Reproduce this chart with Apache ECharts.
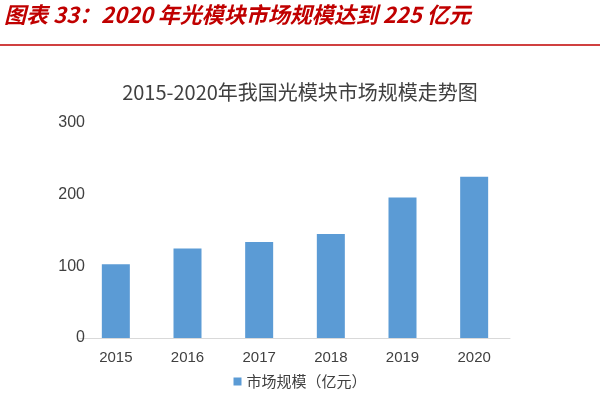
<!DOCTYPE html>
<html><head><meta charset="utf-8">
<script src="https://cdn.jsdelivr.net/npm/echarts@6/dist/echarts.min.js"></script>
<style>html,body{margin:0;padding:0;background:#fff}#c{width:600px;height:400px}</style>
</head><body><div id="c"></div>
<script>
const categories = ['2015','2016','2017','2018','2019','2020'];
const values = [103, 125, 134, 145, 196, 225];
const yTicks = [0, 100, 200, 300];
const seriesName = '市场规模（亿元）';
const header = '图表 33：2020 年光模块市场规模达到 225 亿元';
const title = '2015-2020年我国光模块市场规模走势图';

const chart = echarts.init(document.getElementById('c'));
chart.setOption({
  animation: false,
  graphic: [
    {type:'text', left: 4, top: 4, style:{text: header, fill:'#c00000', font:'italic bold 22px "Noto Sans CJK SC"'}},
    {type:'line', shape:{x1:0,y1:45,x2:600,y2:45}, style:{stroke:'#c00000', lineWidth:1.5}}
  ],
  title: {text: title, left: 'center', top: 77, textStyle:{fontSize:20, fontWeight:'normal', color:'#404040', fontFamily:'"Noto Sans CJK SC"'}},
  grid: {left: 80, right: 90, top: 123, bottom: 62},
  legend: {bottom: 6, left: 'center', itemWidth: 8, itemHeight: 8, icon:'rect',
    textStyle:{fontSize:15, color:'#404040', fontFamily:'"Noto Sans CJK SC"'}},
  xAxis: {type:'category', data: categories,
    axisLine:{lineStyle:{color:'#d9d9d9'}}, axisTick:{show:false},
    axisLabel:{fontSize:15, color:'#404040', margin:12}},
  yAxis: {type:'value', min:0, max:300, interval:100,
    axisLine:{show:false}, axisTick:{show:false}, splitLine:{show:false},
    axisLabel:{fontSize:16, color:'#404040', margin:-5,
      formatter: v => yTicks.includes(v) ? String(v) : ''}},
  series: [{name: seriesName, type:'bar', data: values, barWidth: 28,
    itemStyle:{color:'#5b9bd5'}}]
});
</script></body></html>
